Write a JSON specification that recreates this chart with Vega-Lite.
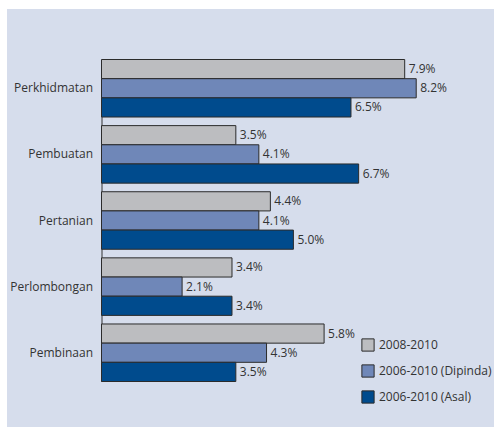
{
  "$schema": "https://vega.github.io/schema/vega-lite/v6.json",
  "autosize": "none",
  "width": 487,
  "height": 418,
  "padding": {"left": 7, "top": 9, "right": 0, "bottom": 0},
  "background": "white",
  "config": {
    "view": {"fill": "#d6ddec", "stroke": null},
    "font": "Open Sans"
  },
  "data": {
    "values": [
      {"sektor": "Perkhidmatan", "siri": "2008-2010", "nilai": 0.079},
      {"sektor": "Perkhidmatan", "siri": "2006-2010 (Dipinda)", "nilai": 0.082},
      {"sektor": "Perkhidmatan", "siri": "2006-2010 (Asal)", "nilai": 0.065},
      {"sektor": "Pembuatan", "siri": "2008-2010", "nilai": 0.035},
      {"sektor": "Pembuatan", "siri": "2006-2010 (Dipinda)", "nilai": 0.041},
      {"sektor": "Pembuatan", "siri": "2006-2010 (Asal)", "nilai": 0.067},
      {"sektor": "Pertanian", "siri": "2008-2010", "nilai": 0.044},
      {"sektor": "Pertanian", "siri": "2006-2010 (Dipinda)", "nilai": 0.041},
      {"sektor": "Pertanian", "siri": "2006-2010 (Asal)", "nilai": 0.050},
      {"sektor": "Perlombongan", "siri": "2008-2010", "nilai": 0.034},
      {"sektor": "Perlombongan", "siri": "2006-2010 (Dipinda)", "nilai": 0.021},
      {"sektor": "Perlombongan", "siri": "2006-2010 (Asal)", "nilai": 0.034},
      {"sektor": "Pembinaan", "siri": "2008-2010", "nilai": 0.058},
      {"sektor": "Pembinaan", "siri": "2006-2010 (Dipinda)", "nilai": 0.043},
      {"sektor": "Pembinaan", "siri": "2006-2010 (Asal)", "nilai": 0.035}
    ]
  },
  "encoding": {
    "y": {
      "field": "sektor",
      "type": "nominal",
      "sort": ["Perkhidmatan", "Pembuatan", "Pertanian", "Perlombongan", "Pembinaan"],
      "scale": {"range": [50.5, 372.5], "paddingInner": 0.13, "paddingOuter": 0},
      "axis": {
        "title": null,
        "offset": -94.5,
        "ticks": false,
        "tickSize": 0,
        "labelPadding": 9,
        "labelFont": "Open Sans",
        "labelFontSize": 12,
        "labelColor": "#333333",
        "domainColor": "#333333",
        "domainWidth": 1,
        "grid": false
      }
    },
    "yOffset": {
      "field": "siri",
      "type": "nominal",
      "sort": ["2008-2010", "2006-2010 (Dipinda)", "2006-2010 (Asal)"],
      "scale": {"paddingInner": 0, "paddingOuter": 0}
    },
    "x": {
      "field": "nilai",
      "type": "quantitative",
      "scale": {"domain": [0, 0.1], "range": [94.5, 478.3], "nice": false, "zero": true},
      "axis": null
    }
  },
  "layer": [
    {
      "mark": {"type": "bar", "stroke": "#2b2b2b", "strokeWidth": 1},
      "encoding": {
        "color": {
          "field": "siri",
          "type": "nominal",
          "sort": ["2008-2010", "2006-2010 (Dipinda)", "2006-2010 (Asal)"],
          "scale": {
            "domain": ["2008-2010", "2006-2010 (Dipinda)", "2006-2010 (Asal)"],
            "range": ["#bcbdc0", "#6f87b8", "#004b8d"]
          },
          "legend": {
            "title": null,
            "orient": "none",
            "legendX": 354,
            "legendY": 329,
            "padding": 0,
            "symbolType": "square",
            "symbolSize": 150,
            "symbolStrokeColor": "#2b2b2b",
            "symbolStrokeWidth": 1,
            "symbolOpacity": 1,
            "labelFont": "Open Sans",
            "labelFontSize": 12,
            "labelColor": "#333333",
            "labelOffset": 4,
            "rowPadding": 8
          }
        }
      }
    },
    {
      "mark": {"type": "text", "align": "left", "baseline": "middle", "dx": 4, "fontSize": 12, "font": "Open Sans", "color": "#333333"},
      "encoding": {
        "text": {"field": "nilai", "type": "quantitative", "format": ".1%"}
      }
    }
  ]
}
